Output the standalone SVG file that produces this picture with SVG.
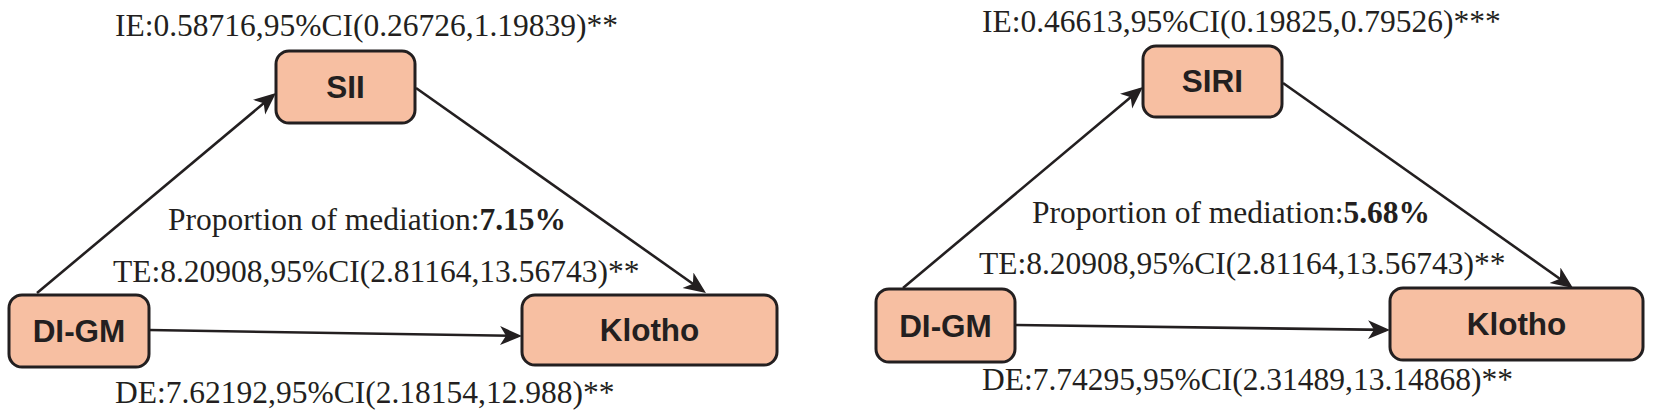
<svg xmlns="http://www.w3.org/2000/svg" width="1653" height="419" viewBox="0 0 1653 419">
<defs>
<style>
.box{fill:#F7BFA2;stroke:#231F20;stroke-width:3}
.lbl{font-family:"Liberation Sans",Arial,sans-serif;font-weight:bold;font-size:31.5px;fill:#231F20;text-anchor:middle}
.note{font-family:"Liberation Serif","Times New Roman",serif;font-size:31.5px;fill:#231F20}
.edge{stroke:#231F20;stroke-width:2.6;fill:none;marker-end:url(#ah)}
</style>
<marker id="ah" markerUnits="userSpaceOnUse" markerWidth="24" markerHeight="20" refX="18" refY="9.5" orient="auto" viewBox="0 0 24 20">
<path d="M0,0 L22,9.5 L0,19 L6,9.5 Z" fill="#231F20"/>
</marker>
</defs>
<rect width="1653" height="419" fill="#ffffff"/>
<g id="connectors">
<path class="edge" d="M37,293 L272.9,95.6"/>
<path class="edge" d="M416,88 L702.7,290.7"/>
<path class="edge" d="M149,330 L518,335.9"/>
<path class="edge" d="M903,288 L1139.9,89.6"/>
<path class="edge" d="M1283,83 L1569.7,285.7"/>
<path class="edge" d="M1015,325 L1386,329.9"/>
</g>
<g id="node-sii">
<rect class="box" x="276" y="51" width="139" height="72" rx="13"/>
<text class="lbl" x="345.5" y="97.5">SII</text>
</g>
<g id="node-digm-left">
<rect class="box" x="9" y="295" width="140" height="72" rx="13"/>
<text class="lbl" x="79" y="342">DI-GM</text>
</g>
<g id="node-klotho-left">
<rect class="box" x="522" y="295" width="255" height="70" rx="13"/>
<text class="lbl" x="649.5" y="341">Klotho</text>
</g>
<g id="node-siri">
<rect class="box" x="1143" y="46" width="139" height="71" rx="13"/>
<text class="lbl" x="1212.5" y="92">SIRI</text>
</g>
<g id="node-digm-right">
<rect class="box" x="876" y="289" width="139" height="73" rx="13"/>
<text class="lbl" x="945.5" y="337">DI-GM</text>
</g>
<g id="node-klotho-right">
<rect class="box" x="1390" y="288" width="253" height="72" rx="13"/>
<text class="lbl" x="1516.5" y="335">Klotho</text>
</g>
<g id="labels">
<text class="note" x="115" y="36">IE:0.58716,95%CI(0.26726,1.19839)**</text>
<text class="note" x="168" y="230">Proportion of mediation:<tspan font-weight="bold">7.15%</tspan></text>
<text class="note" x="113" y="282">TE:8.20908,95%CI(2.81164,13.56743)**</text>
<text class="note" x="115" y="403">DE:7.62192,95%CI(2.18154,12.988)**</text>
<text class="note" x="982" y="32">IE:0.46613,95%CI(0.19825,0.79526)***</text>
<text class="note" x="1032" y="223">Proportion of mediation:<tspan font-weight="bold">5.68%</tspan></text>
<text class="note" x="979" y="274">TE:8.20908,95%CI(2.81164,13.56743)**</text>
<text class="note" x="982" y="390">DE:7.74295,95%CI(2.31489,13.14868)**</text>
</g>
</svg>
